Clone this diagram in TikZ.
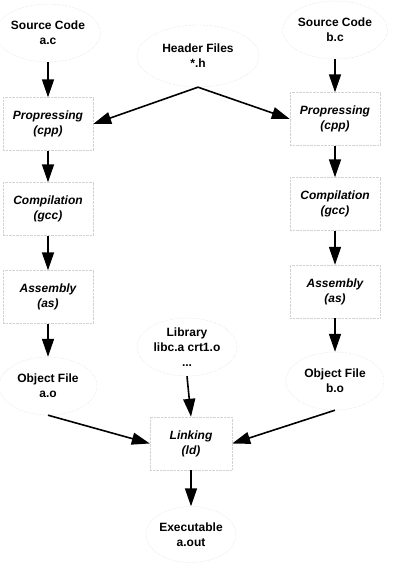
\documentclass[tikz,border=0pt]{standalone}
\usepackage{fontspec}
\setmainfont{Liberation Sans}
\usetikzlibrary{arrows.meta,shapes.geometric}

\tikzset{
    file/.style={ellipse, draw=gray!35, densely dotted, inner sep=0pt,
        minimum width=98pt, minimum height=58pt, align=center,
        font=\fontsize{12}{15}\selectfont\bfseries},
    proc/.style={rectangle, draw=gray!35, densely dotted,
        minimum width=90pt, minimum height=53pt, align=center,
        font=\fontsize{12}{15}\selectfont\bfseries\itshape},
    flow/.style={-{Triangle[length=18pt,width=12pt]}, line width=1.6pt, solid},
}

\begin{document}
\begin{tikzpicture}[x=1pt,y=-1pt]
    \useasboundingbox (0,0) rectangle (411,568);
    % left chain: a.c
    \node[file] (srca) at (48,33) {Source Code\\a.c};
    \node[proc] (cppa) at (48,124) {Propressing\\(cpp)};
    \node[proc] (gcca) at (48,209) {Compilation\\(gcc)};
    \node[proc] (asa) at (48,297) {Assembly\\(as)};
    \node[file] (objao) at (48,386) {Object File\\a.o};
    % right chain: b.c
    \node[file] (srcb) at (335,30) {Source Code\\b.c};
    \node[proc] (cppb) at (335,119) {Propressing\\(cpp)};
    \node[proc] (gccb) at (335,204) {Compilation\\(gcc)};
    \node[proc] (asb) at (335,291.5) {Assembly\\(as)};
    \node[file] (objbo) at (335,381) {Object File\\b.o};
    % shared inputs and output
    \node[file, minimum width=122pt, minimum height=62pt] (hdr) at (198,56) {Header Files\\*.h};
    \node[file, minimum width=100pt] (lib) at (187,347) {Library\\libc.a crt1.o\\...};
    \node[proc, minimum width=82pt] (lnk) at (191,443.5) {Linking\\(ld)};
    \node[file, minimum width=90pt, minimum height=56pt] (exe) at (191,534.5) {Executable\\a.out};

    \draw[flow] (srca) -- (cppa);
    \draw[flow] (cppa) -- (gcca);
    \draw[flow] (gcca) -- (asa);
    \draw[flow] (asa) -- (objao);
    \draw[flow] (srcb) -- (cppb);
    \draw[flow] (cppb) -- (gccb);
    \draw[flow] (gccb) -- (asb);
    \draw[flow] (asb) -- (objbo);
    \draw[flow] (hdr.south) -- (cppa.east);
    \draw[flow] (hdr.south) -- (cppb.west);
    \draw[flow] (objao.south) -- (lnk.west);
    \draw[flow] (objbo.south) -- (lnk.east);
    \draw[flow] (lib.south) -- (lnk.north);
    \draw[flow] (lnk) -- (exe);
\end{tikzpicture}
\end{document}
